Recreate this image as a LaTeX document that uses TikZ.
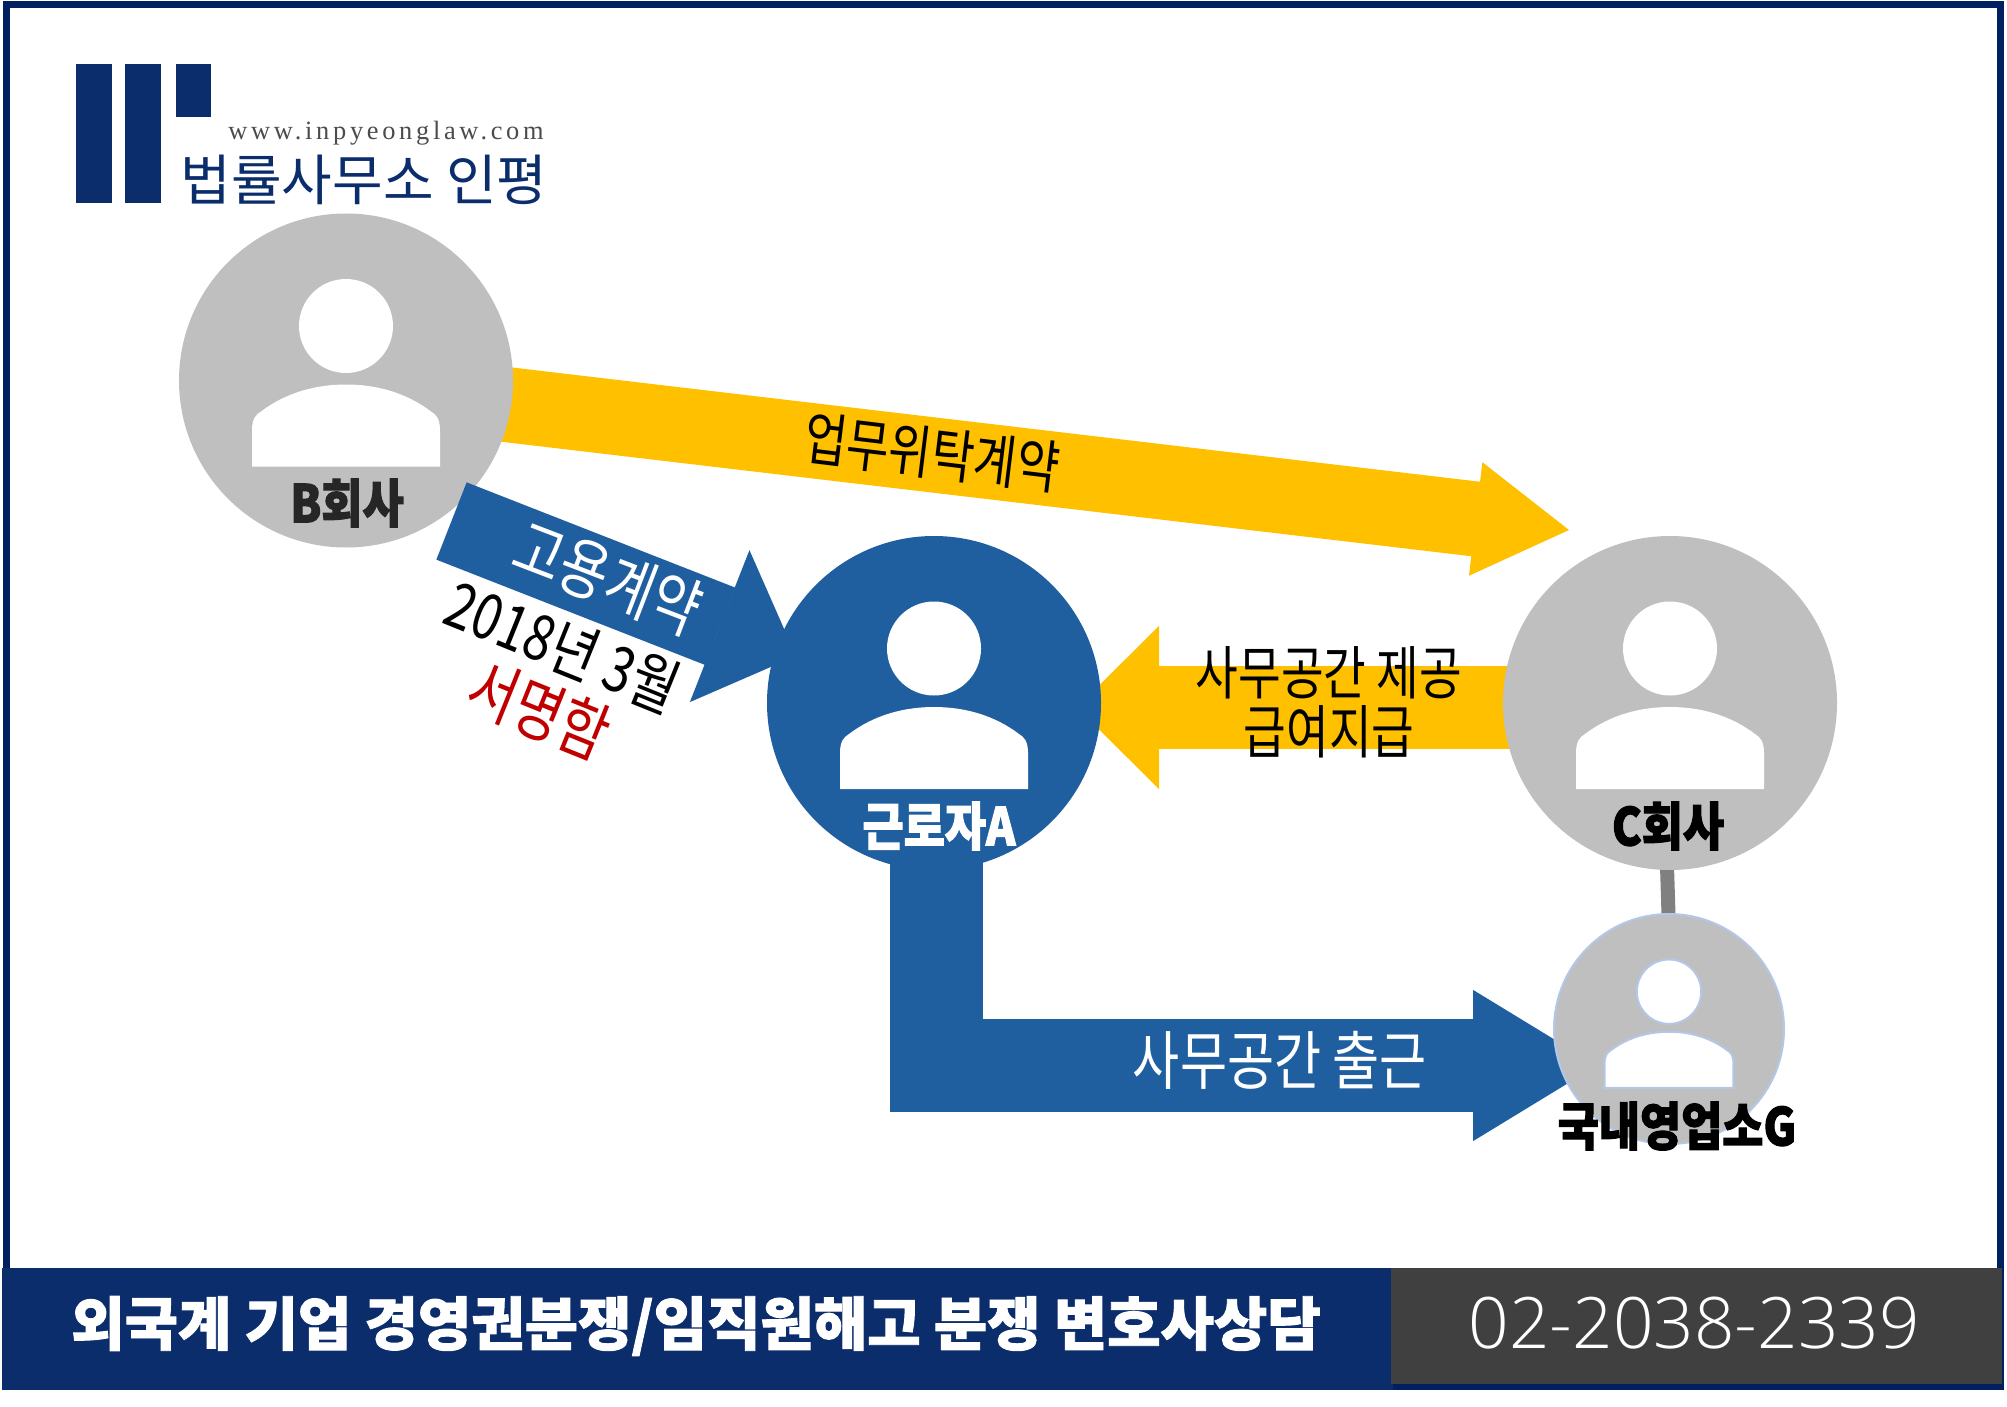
\documentclass[tikz,border=0pt]{standalone}
\usepackage{fontspec}
\usetikzlibrary{arrows.meta,backgrounds,calc,positioning}
\setmainfont{Noto Sans CJK KR}[BoldFeatures={FakeBold=1.6}]
\newfontfamily\tightfont[FakeStretch=0.8]{Noto Sans CJK KR}
\newfontfamily\nameFont[FakeStretch=0.86,BoldFeatures={FakeBold=2}]{Noto Sans CJK KR}
\newfontfamily\webfont[LetterSpace=14]{Liberation Serif}
\newfontfamily\phonefont[UprightFont=* Light]{Open Sans}
\definecolor{navy}{HTML}{0B2D6B}
\definecolor{framenavy}{HTML}{002060}
\definecolor{gold}{HTML}{FFC000}
\definecolor{steel}{HTML}{205F9F}
\definecolor{greyfill}{HTML}{BFBFBF}
\definecolor{paleblue}{HTML}{B4C7E7}
\definecolor{signred}{HTML}{C00000}
\tikzset{
    %Define person icon
    person/.pic={
           \path[pic actions] (0,-54.5) circle (47);
           \path[pic actions] (-94,86) -- (-94,50)
                .. controls (-94,38) and (-90,34) .. (-85,31)
                .. controls (-60,12) and (-30,4) .. (0,4)
                .. controls (30,4) and (60,12) .. (85,31)
                .. controls (90,34) and (94,38) .. (94,50)
                -- (94,86) -- cycle;
           },
    %Define style for circles
    party/.style={
           circle,
           inner sep=0pt,
           fill=greyfill,
           minimum size=167pt,
           },
    %Define style for texts
    who/.style={
           font=\nameFont\bfseries\fontsize{26}{28}\selectfont,
           inner sep=0pt,
           },
    tag/.style={
           font=\tightfont\fontsize{#1}{29.5}\selectfont,
           inner sep=0pt,
           align=center,
           },
    % Define arrow style
    goldpil/.style={
           draw=gold,
           line width=37.5pt,
           -{Triangle[length=47pt,width=57pt,fill=gold,line width=0.6pt]},
           },
    blockpil/.style={
           line width=41.5pt,
           -{Triangle[length=41pt,width=81.5pt,line width=0.6pt]},
           }
}
\begin{document}
\begin{tikzpicture}[x=0.5pt,y=-0.5pt]
\useasboundingbox (0,0) rectangle (2007,1407);
\node[party](B) at (346,380.5){};
\node[party, fill=steel](A) at (934,703){};
\node[party](C) at (1670,703){};
\node[party, minimum size=115pt, draw=paleblue, line width=1pt](G) at (1669,1029){};
\pic[fill=white] at (B) {person};
\pic[fill=white] at (A) {person};
\pic[fill=white] at (C) {person};
\pic[fill=white, draw=paleblue, line width=1pt, scale=0.685] at (G) {person};
\coordinate (goldstart) at (400,392);
\coordinate (goldtip) at (1569,530);
\coordinate (roomstart) at (1600,707.5);
\coordinate (roomtip) at (1077,707.5);
\coordinate (workstart) at (936.5,704);
\coordinate (worktip) at (1597,1065.5);
\coordinate (hirestart) at (451.5,521);
\coordinate (hiretip) at (796,656);
\begin{scope}[on background layer]
\fill[white] (0,0) rectangle (2007,1407);
\draw[line width=7pt, color=gray] ($(C)+(-8,0)$) -- ($(G)+(3,0)$);
\draw[goldpil] (goldstart) -- (goldtip);
\draw[blockpil, draw=gold, -{Triangle[length=41pt,width=81.5pt,fill=gold,line width=0.6pt]}] (roomstart) -- (roomtip);
\draw[steel, line width=46.5pt, -{Triangle[length=62pt,width=75.5pt,line width=0.6pt]}] (workstart) |- (worktip);
\end{scope}
\draw[blockpil, steel] (hirestart) -- (hiretip);
% frame and footer
\draw[framenavy, line width=3.5pt] (6,4.5) rectangle (2000,1386.5);
\fill[navy] (2,1267.5) rectangle (1393,1390);
\fill[black!75] (1391,1267.5) rectangle (2002,1384);
\node[font=\bfseries\fontsize{29}{32}\selectfont, text=white, inner sep=0pt](footer) at (696,1326){외국계 기업 경영권분쟁/임직원해고 분쟁 변호사상담};
\node[font=\phonefont\fontsize{35.5}{40}\selectfont, text=white, inner sep=0pt](phone) at (1694,1323){02-2038-2339};
% logo
\fill[navy] (75.5,64) rectangle (111.5,203);
\fill[navy] (125,64) rectangle (161,203);
\fill[navy] (175.5,64) rectangle (211,117.5);
\node[font=\webfont\fontsize{13.2}{16}\selectfont, text=black!70, inner sep=0pt](web) at (386,133){www.inpyeonglaw.com};
\node[font=\fontsize{27.5}{30}\selectfont, text=navy, inner sep=0pt](firm) at (364,180){법률사무소 인평};
% labels
\node[who, text=black!85](Bname) at (347,503){B회사};
\node[who, text=white](Aname) at (939,826){근로자A};
\node[who, text=black](Cname) at (1668,826){C회사};
\node[who, text=black](Gname) at (1677,1126){국내영업소G};
\node[tag=29, rotate=-7](trust) at (932,453){업무위탁계약};
\node[tag=33, rotate=-21, text=white](hire) at (608,578){고용계약};
\node[tag=31.5, rotate=-22](date) at (563,646){2018년 3월};
\node[tag=33, rotate=-22, text=signred](sign) at (539,710){서명함};
\node[tag=29](room) at (1329,702){사무공간 제공\\급여지급};
\node[tag=32, text=white](work) at (1280,1060){사무공간 출근};
\end{tikzpicture}
\end{document}
